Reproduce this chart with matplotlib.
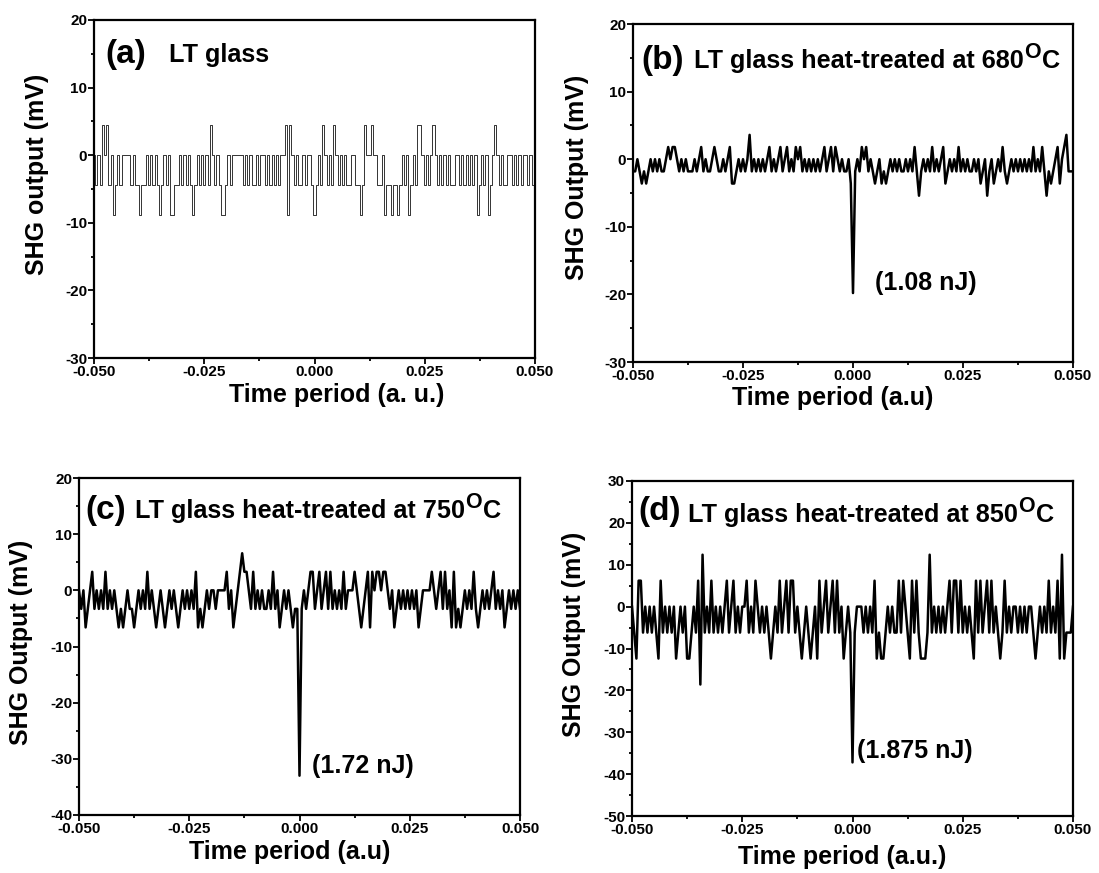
import numpy as np
import matplotlib
matplotlib.use('Agg')
import matplotlib.pyplot as plt
from matplotlib.ticker import MultipleLocator, FormatStrFormatter

plt.rcParams['font.family'] = ['Liberation Sans', 'DejaVu Sans']
plt.rcParams['font.weight'] = 'bold'
plt.rcParams['axes.unicode_minus'] = False

# signal levels, in quantisation steps (201 samples, -0.05..0.05)
step_a = 4.4
level_a = [0, -1, 0, -1, 1, 0, 1, -1, 0, -2,
           -1, 0, -1, 0, 0, 0, 0, -1, 0, -1,
           -1, -2, -1, -1, 0, -1, 0, -1, 0, -1,
           -2, -1, 0, -1, 0, -2, -2, -1, -1, 0,
           -1, 0, -1, 0, -1, -2, -1, 0, -1, 0,
           -1, 0, -1, 1, 0, -1, 0, -1, -2, -2,
           -1, 0, -1, 0, 0, 0, 0, 0, -1, 0,
           -1, 0, -1, -1, 0, -1, 0, 0, -1, 0,
           -1, 0, -1, 0, -1, 0, 0, 1, -2, 1,
           0, -1, 0, -1, -1, 0, -1, 0, 0, -1,
           -2, -1, 0, -1, 1, 0, -1, 0, -1, 1,
           0, -1, 0, -1, 0, -1, -1, 0, 0, -1,
           -1, -2, -1, 1, 0, 0, 1, 0, 0, -1,
           -1, 0, -2, -1, -1, -2, -1, -1, -2, -1,
           0, -1, 0, -2, -1, 0, -1, 1, 1, 0,
           -1, 0, -1, 0, 1, 0, -1, 0, -1, 0,
           -1, 0, -1, -1, 0, 0, -1, 0, -1, 0,
           -1, 0, -1, 0, -2, -1, 0, -1, 0, -2,
           -1, 0, 1, 0, -1, 0, -1, -1, 0, 0,
           -1, 0, -1, 0, -1, 0, 0, -1, 0, -1,
           -1]

step_b = 1.8
level_b = [-1, -1, 0, -1, -2, -1, -2, -1, 0, -1,
           0, -1, 0, -1, -1, 0, 1, 0, 1, 1,
           0, -1, 0, -1, 0, -1, -1, -1, 0, -1,
           0, 1, -1, 0, -1, -1, 0, 1, 0, -1,
           -1, 0, -1, 0, 1, -2, -2, -1, 0, -1,
           0, -1, 0, 2, -1, 0, -1, 0, -1, 0,
           -1, 0, 1, -1, 0, -1, 0, 1, -1, 0,
           1, -1, 0, -1, 1, 0, 1, -1, 0, -1,
           0, -1, 0, -1, 0, -1, 0, 1, -1, 0,
           1, -1, 1, 0, -1, 0, -1, -1, 0, -2,
           -11, -1, 0, -1, 1, 0, 1, -1, 0, -1,
           -2, -1, 0, -2, -1, -2, -1, 0, -1, 0,
           -1, 0, -1, -1, 0, -1, 0, -1, 1, -1,
           -3, -1, 0, -1, 0, -1, 1, -1, 0, -1,
           0, 1, -2, -1, 0, -1, 0, -1, 1, -1,
           0, -1, 0, -1, -1, 0, -1, 0, -2, -1,
           0, -3, -1, 0, -2, -1, 0, -1, 1, -1,
           -2, -1, 0, -1, 0, -1, 0, -1, 0, -1,
           0, -1, 1, -1, 0, -1, 1, -1, -3, -1,
           -2, -1, 0, 1, -2, 0, 1, 2, -1, -1,
           -1]

step_c = 3.3
level_c = [0, -1, 0, -2, -1, 0, 1, -1, 0, -1,
           0, -1, 1, -1, 0, -1, 0, -1, -2, -1,
           -2, -1, 0, -1, -1, -2, -1, 0, -1, 0,
           -1, 1, -1, 0, -1, -2, -1, 0, -1, -2,
           -1, 0, -1, 0, -1, -2, -1, 0, -1, 0,
           -1, 0, -1, 1, -2, -1, -2, -1, 0, -1,
           0, 0, -1, 0, 0, 0, 0, 1, -1, 0,
           -2, -1, 0, 1, 2, 1, 1, 0, -1, 1,
           -1, 0, -1, 0, -1, -1, 0, -1, 1, -1,
           0, -2, -1, 0, -1, 0, -1, -2, -1, -1,
           -10, -1, 0, -1, 0, 1, 1, -1, 0, 1,
           -1, 0, 1, -1, 1, -1, 0, -1, 0, -1,
           1, -1, 0, 0, 0, 1, 0, -1, -2, -1,
           0, 1, -2, 1, 0, 1, 1, 0, 1, 1,
           0, -1, 0, -2, -1, 0, -1, 0, -1, 0,
           -1, 0, -1, 0, -2, -1, 0, 0, 0, 0,
           1, 0, -1, 0, 1, -1, 1, -1, 0, -2,
           1, -2, -1, -2, -1, 0, -1, 0, -1, 1,
           -1, -2, -1, 0, -1, 0, -1, 0, 1, -1,
           0, -1, 0, -2, -1, 0, -1, 0, -1, 0,
           -1]

step_d = 6.2
level_d = [0, -1, -2, 1, 1, -1, 0, -1, 0, -1,
           0, -1, -2, 1, -1, 0, -1, 0, -1, 0,
           -2, -1, 0, -1, 0, -2, -2, -1, 0, -1,
           1, -3, 2, -1, 0, -1, 1, -1, 0, -1,
           0, -1, 0, 1, -1, 0, 1, -1, 0, -1,
           0, 0, 1, -1, 0, -1, 1, 0, -1, 0,
           -1, 0, -1, -2, -1, 0, -1, 1, -1, 0,
           1, -1, 1, 1, -1, 0, -1, -2, -1, 0,
           -1, -2, -1, 0, -2, 1, -1, 0, 1, -1,
           0, 1, -1, 1, -1, 0, -2, -1, 0, -1,
           -6, -1, 0, 0, 0, -1, 0, -1, 0, -1,
           1, -2, -1, -2, -2, -1, 0, -1, 0, -1,
           -1, 1, -1, 1, 0, -1, -2, 1, -1, 1,
           -1, -2, -2, -2, -1, 2, -1, 0, -1, 0,
           -1, 0, -1, 0, 1, -1, 1, 1, -1, 1,
           -1, 0, -1, 0, -1, -2, 1, -1, 1, -1,
           0, 1, -1, 1, -1, 0, -1, -2, -1, 1,
           -1, 0, -1, 0, 0, -1, 0, -1, 0, -1,
           0, 0, -1, -2, -1, 0, -1, 0, -1, 1,
           -1, 0, -1, 1, -2, 2, -2, -1, -1, -1,
           0]

panel_tags = ['(a)', '(b)', '(c)', '(d)']
panel_titles = ['LT glass',
                'LT glass heat-treated at 680',
                'LT glass heat-treated at 750',
                'LT glass heat-treated at 850']
has_degree = [False, True, True, True]
xlabels = ['Time period (a. u.)', 'Time period (a.u)', 'Time period (a.u)', 'Time period (a.u.)']
ylabels = ['SHG output (mV)', 'SHG Output (mV)', 'SHG Output (mV)', 'SHG Output (mV)']
ylims = [(-30, 20), (-30, 20), (-40, 20), (-50, 30)]
energy = [None, '(1.08 nJ)', '(1.72 nJ)', '(1.875 nJ)']
energy_xy = [None, (0.005, -18.3), (0.0028, -31.2), (0.001, -34.4)]

levels = [level_a, level_b, level_c, level_d]
steps = [step_a, step_b, step_c, step_d]

W, H = 1099, 873
fig = plt.figure(figsize=(W / 100, H / 100), dpi=100)

# axes boxes in pixels: left, right, top, bottom
boxes = [(94, 535, 20, 358), (633, 1073, 24, 362), (79, 520, 478, 815), (632, 1073, 481, 816)]
tag_pos = [(0.025, 0.898), (0.019, 0.893), (0.015, 0.905), (0.014, 0.91)]
title_pos = [(0.17, 0.875), (0.139, 0.87), (0.127, 0.881), (0.127, 0.878)]
xlab_pos = [(0.551, -0.1095), (0.453, -0.1065), (0.477, -0.11), (0.476, -0.122)]
ylab_pos = [(-0.129, 0.543), (-0.127, 0.546), (-0.132, 0.513), (-0.1315, 0.543)]
line_w = [0.7, 1.8, 1.8, 1.8]
line_c = ['#333333', 'black', 'black', 'black']
draw = ['steps-mid', 'default', 'default', 'default']

for k in range(4):
    l, r, t, b = boxes[k]
    ax = fig.add_axes([l / W, 1 - b / H, (r - l) / W, (b - t) / H])
    y = np.array(levels[k]) * steps[k]
    x = np.linspace(-0.05, 0.05, len(y))
    ax.plot(x, y, color=line_c[k], lw=line_w[k], drawstyle=draw[k])
    ax.set_xlim(-0.05, 0.05)
    ax.set_ylim(*ylims[k])
    ax.xaxis.set_major_locator(MultipleLocator(0.025))
    ax.xaxis.set_minor_locator(MultipleLocator(0.0125))
    ax.yaxis.set_major_locator(MultipleLocator(10))
    ax.yaxis.set_minor_locator(MultipleLocator(5))
    ax.xaxis.set_major_formatter(FormatStrFormatter('%.3f'))
    ax.tick_params(which='both', direction='out', width=1.3, labelsize=11, pad=1)
    ax.tick_params(which='major', length=4)
    ax.tick_params(which='minor', length=2.5)
    for s in ax.spines.values():
        s.set_linewidth(1.6)
    for lab in ax.get_xticklabels() + ax.get_yticklabels():
        lab.set_fontweight('bold')

    ax.set_xlabel(xlabels[k], fontsize=18, fontweight='bold', va='center')
    ax.xaxis.set_label_coords(*xlab_pos[k])
    ax.set_ylabel(ylabels[k], fontsize=18, fontweight='bold', va='center')
    ax.yaxis.set_label_coords(*ylab_pos[k])

    ax.text(tag_pos[k][0], tag_pos[k][1], panel_tags[k], transform=ax.transAxes,
            fontsize=24, fontweight='bold', va='center', ha='left')
    title = ax.text(title_pos[k][0], title_pos[k][1], panel_titles[k], transform=ax.transAxes,
                    fontsize=18.2, fontweight='bold', va='baseline', ha='left')
    if has_degree[k]:
        deg = ax.annotate('O', xy=(1, 0), xycoords=title, xytext=(0, 10),
                          textcoords='offset pixels', fontsize=15.5, fontweight='bold',
                          va='bottom', ha='left')
        ax.annotate('C', xy=(1, 0), xycoords=(deg, title), xytext=(1, 0),
                    textcoords='offset pixels', fontsize=18.2, fontweight='bold',
                    va='bottom', ha='left')
    if energy[k]:
        ax.text(energy_xy[k][0], energy_xy[k][1], energy[k], fontsize=18,
                fontweight='bold', va='center', ha='left')

fig.savefig('out.png', dpi=100)
